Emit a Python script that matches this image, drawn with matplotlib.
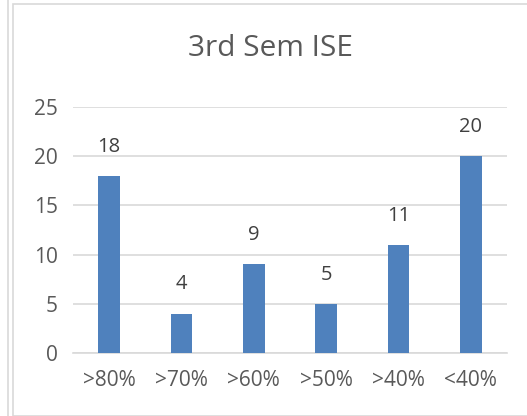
import matplotlib
matplotlib.use("Agg")
import matplotlib.pyplot as plt
from matplotlib.patches import Rectangle

categories = [">80%", ">70%", ">60%", ">50%", ">40%", "<40%"]
values = [18, 4, 9, 5, 11, 20]
yticks = [0, 5, 10, 15, 20, 25]
title = "3rd Sem ISE"

plt.rcParams['font.family'] = ['Open Sans', 'DejaVu Sans']

W, H = 527, 416
fig = plt.figure(figsize=(W / 100, H / 100), dpi=100)
fig.patch.set_facecolor("white")

# chart border
fig.add_artist(Rectangle((13 / W, 0), (W - 13) / W + 0.01, (H - 4) / H,
                         transform=fig.transFigure, fill=False,
                         edgecolor="#d9d9d9", linewidth=1.2))
# left outer line
fig.add_artist(plt.Line2D([8 / W, 8 / W], [0, 1], transform=fig.transFigure,
                          color="#d9d9d9", linewidth=1.2))

left, right = 73 / W, 507 / W
bottom, top = 1 - 353 / H, 1 - 107 / H
ax = fig.add_axes([left, bottom, right - left, top - bottom])

x = list(range(len(categories)))
ax.bar(x, values, width=0.3, color="#4f81bd", zorder=3)
for xi, v in zip(x, values):
    ax.annotate(str(v), xy=(xi, v), xytext=(0, 21), textcoords="offset points",
                ha="center", va="center", fontsize=14.5, color="#404040")

ax.set_xlim(-0.5, len(categories) - 0.5)
ax.set_ylim(0, 25)
ax.set_yticks(yticks)
ax.set_xticks(x)
ax.set_xticklabels(categories)
ax.yaxis.grid(True, color="#d9d9d9", linewidth=1.2, zorder=0)
for s in ["top", "right", "left"]:
    ax.spines[s].set_visible(False)
ax.spines["bottom"].set_color("#d9d9d9")
ax.spines["bottom"].set_linewidth(1.2)
ax.tick_params(axis="both", length=0, labelsize=15, colors="#595959")
ax.tick_params(axis="y", pad=11)
ax.tick_params(axis="x", pad=12)

fig.text(0.5 + 13 / W / 2, 1 - 48 / H, title, ha="center", va="center",
         fontsize=21.5, color="#595959")

fig.savefig("out.png", dpi=100)
